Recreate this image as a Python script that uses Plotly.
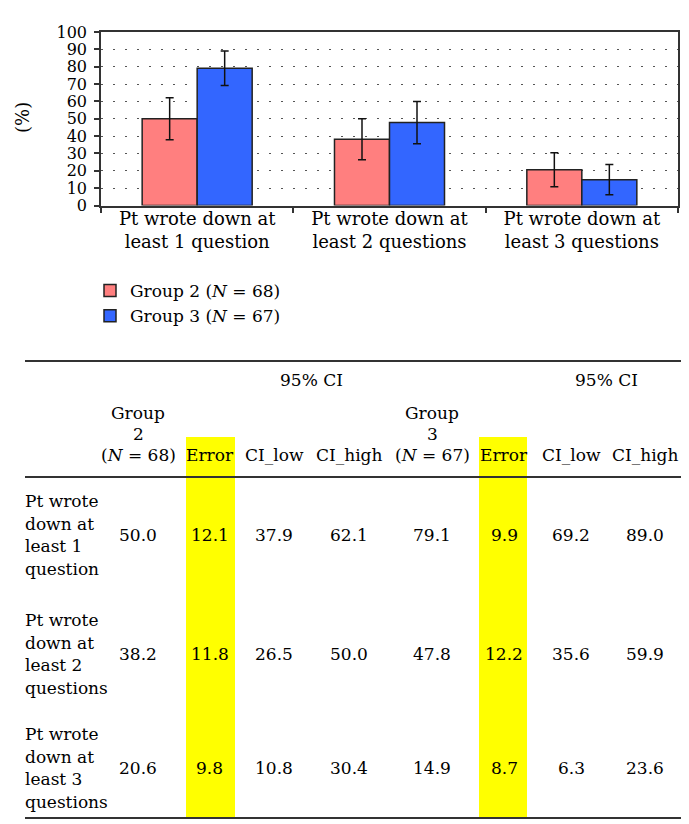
import plotly.graph_objects as go

# ---------------- data ----------------
categories = [
    "Pt wrote down at<br>least 1 question",
    "Pt wrote down at<br>least 2 questions",
    "Pt wrote down at<br>least 3 questions",
]
group2_name = "Group 2 (<i>N</i> = 68)"
group3_name = "Group 3 (<i>N</i> = 67)"

group2_pct = [50.0, 38.2, 20.6]
group2_err = [12.1, 11.8, 9.8]
group2_ci_low = [37.9, 26.5, 10.8]
group2_ci_high = [62.1, 50.0, 30.4]

group3_pct = [79.1, 47.8, 14.9]
group3_err = [9.9, 12.2, 8.7]
group3_ci_low = [69.2, 35.6, 6.3]
group3_ci_high = [89.0, 59.9, 23.6]

y_ticks = [0, 10, 20, 30, 40, 50, 60, 70, 80, 90, 100]

table_row_label_lines = [
    ["Pt wrote", "down at", "least 1", "question"],
    ["Pt wrote", "down at", "least 2", "questions"],
    ["Pt wrote", "down at", "least 3", "questions"],
]
table_col_headers = ["Error", "CI_low", "CI_high"]
table_ci_header = "95% CI"
table_group_headers = [["Group", "2", "(<i>N</i> = 68)"], ["Group", "3", "(<i>N</i> = 67)"]]

# ---------------- layout helpers ----------------
W, H = 689, 824
FONT = "DejaVu Serif"
FS = 17


def px(x):
    return x / W


def py(y):
    return 1 - y / H


fig = go.Figure()

fig.add_trace(go.Bar(
    x=categories, y=group2_pct, name=group2_name,
    marker=dict(color="#FF7F7F", line=dict(color="#222222", width=1.5)),
    error_y=dict(type="data", array=group2_err, visible=True,
                 color="#111111", thickness=1.5, width=4),
))
fig.add_trace(go.Bar(
    x=categories, y=group3_pct, name=group3_name,
    marker=dict(color="#3366FF", line=dict(color="#222222", width=1.5)),
    error_y=dict(type="data", array=group3_err, visible=True,
                 color="#111111", thickness=1.5, width=4),
))

annotations = []
shapes = []

# y-axis title
annotations.append(dict(x=px(14), y=py(110), xref="paper", yref="paper",
                        text="(%)", textangle=-90, showarrow=False,
                        font=dict(family=FONT, size=18, color="black"),
                        xanchor="center", yanchor="middle"))

# ---------------- table ----------------
line_color = "#333333"
for yy in [353, 469, 810]:
    shapes.append(dict(type="line", xref="paper", yref="paper",
                       x0=px(17), x1=px(675), y0=py(yy), y1=py(yy),
                       line=dict(color=line_color, width=2)))
for (xa, xb) in [(178, 227), (471, 519)]:
    shapes.append(dict(type="rect", xref="paper", yref="paper",
                       x0=px(xa), x1=px(xb), y0=py(809), y1=py(429),
                       fillcolor="#FFFF00", line=dict(width=0), layer="below"))

col_x = [130, 202, 266, 341, 424, 496, 563, 637]
columns = [group2_pct, group2_err, group2_ci_low, group2_ci_high,
           group3_pct, group3_err, group3_ci_low, group3_ci_high]
row_y = [527, 646, 760]


def txt(x, y, s, anchor="center", size=FS):
    annotations.append(dict(x=px(x), y=py(y), xref="paper", yref="paper",
                            text=s, showarrow=False, xanchor=anchor, yanchor="middle",
                            font=dict(family=FONT, size=size, color="black")))


# header
txt(303, 372, table_ci_header)
txt(598, 372, table_ci_header)
for gi, gx in enumerate([col_x[0], col_x[4]]):
    for li, yy in enumerate([405, 426, 447]):
        txt(gx, yy, table_group_headers[gi][li])
for gi in range(2):
    for ci, name in enumerate(table_col_headers):
        txt(col_x[gi * 4 + 1 + ci], 447, name)

# body
for ri, ry in enumerate(row_y):
    for li, off in enumerate([-34, -11.3, 11.3, 34]):
        txt(15, ry + off, table_row_label_lines[ri][li], anchor="left")
    for ci, cx in enumerate(col_x):
        txt(cx, ry, f"{columns[ci][ri]:.1f}")

fig.update_layout(
    width=W, height=H,
    margin=dict(l=0, r=0, t=0, b=0),
    paper_bgcolor="white", plot_bgcolor="white",
    barmode="group", bargap=0.428, bargroupgap=0,
    font=dict(family=FONT, size=FS, color="black"),
    showlegend=True,
    legend=dict(x=px(82), y=py(265), xanchor="left", yanchor="top",
                bgcolor="rgba(0,0,0,0)", font=dict(family=FONT, size=FS, color="black"),
                traceorder="normal", tracegroupgap=0),
    xaxis=dict(domain=[px(93), px(670)], tickson="boundaries", ticks="outside",
               ticklen=6, tickcolor=line_color, tickwidth=1.5,
               showline=True, linecolor=line_color, linewidth=1.5, mirror=True,
               showgrid=False, automargin=False, ticklabelstandoff=-4,
               tickfont=dict(family=FONT, size=18, color="black")),
    yaxis=dict(domain=[py(197.5), py(24)], range=[0, 100], tickvals=y_ticks,
               ticks="outside", ticklen=5, tickcolor=line_color, tickwidth=1.5,
               showline=True, linecolor=line_color, linewidth=1.5, mirror=True,
               showgrid=True, gridcolor="#555555", gridwidth=1, griddash="2px,10px",
               zeroline=False, automargin=False, ticklabelstandoff=4,
               tickfont=dict(family=FONT, size=16, color="black")),
    annotations=annotations,
    shapes=shapes,
)

fig.write_html("out.html")
